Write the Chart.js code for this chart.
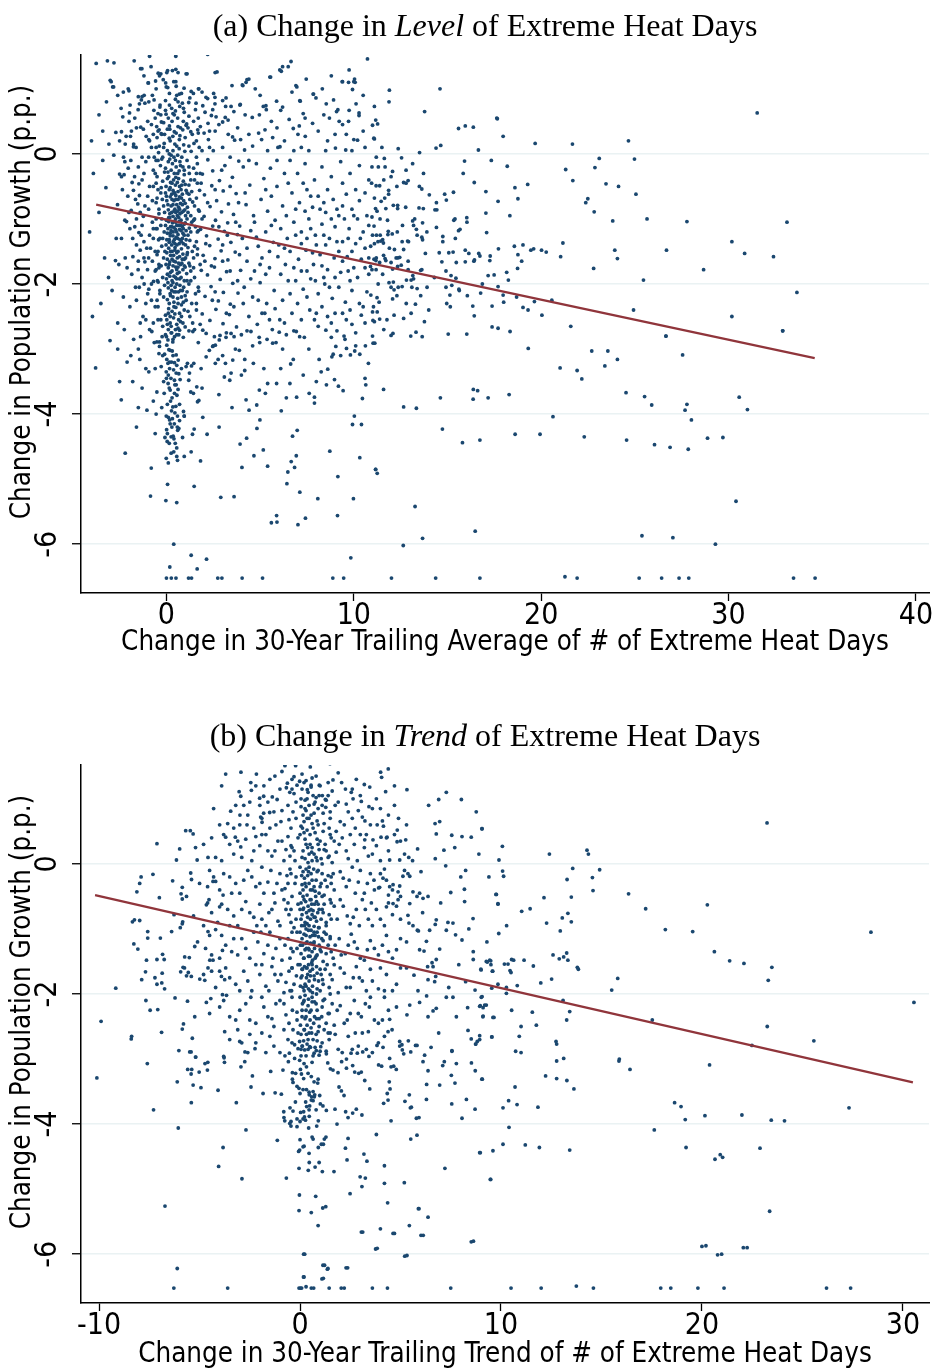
<!DOCTYPE html>
<html>
<head>
<meta charset="utf-8">
<script src="https://cdn.jsdelivr.net/npm/chart.js@4.4.1/dist/chart.umd.min.js"></script>
<style>
  body { margin: 0; background: #fff; }
  canvas { display: block; }
</style>
</head>
<body>
<canvas id="level-chart" width="933" height="710"></canvas>
<canvas id="trend-chart" width="933" height="658"></canvas>
<script>
// tick values
const levelXTicks = [0, 10, 20, 30, 40];
const trendXTicks = [-10, 0, 10, 20, 30];
const yTicks = [0, -2, -4, -6];

// fitted lines (end points)
const levelFit = [[-3.75, -0.78], [34.6, -3.14]];
const trendFit = [[-10.2, -0.48], [30.5, -3.36]];

// (a) change in 30-yr trailing average vs change in pop growth
const levelPoints = [
[-3.75,1.39],[-3.15,1.43],[-2.8,1.4],[-1.72,1.43],[-0.9,1.5],[0.5,1.5],[2.2,1.53],[-1.38,1.31],[-0.3,1.23],[0.06,1.28],[0.32,1.28],[0.62,1.25],[1.1,1.23],[2.6,1.25],[2.7,1.26],[6.65,1.42],[6.2,1.34],[6.05,1.29],[10.73,1.46],[9.75,1.29],[10.04,1.15],[9.72,1.1],[9.4,1.11],[11.9,0.98],[11.88,0.8],[14.6,1.0],[13.78,0.65],[17.63,0.55],[31.53,0.63],
[-3.0,1.13],[-2.87,1.03],[-2.04,1.0],[-1.5,0.88],[-1.34,0.83],[-0.96,1.09],[-0.58,1.12],[-0.17,1.14],[-0.01,1.03],[0.5,1.11],[0.69,0.92],[0.94,1.01],[1.32,0.96],[1.73,1.0],[2.2,0.85],[2.59,0.77],[3.16,0.73],[3.92,0.75],[4.3,1.14],[4.08,1.05],[4.74,1.0],[5.56,1.18],[6.13,1.27],[6.96,1.03],[7.46,1.15],[7.85,0.92],[8.32,1.0],[7.12,0.82],[5.31,0.74],[6.1,0.67],[8.92,0.83],[10.12,0.77],[10.28,0.63],[9.15,0.68],[10.0,1.11],
[-0.82,1.34],[-1.31,1.31],[-0.44,1.24],[-0.37,1.2],[0.02,1.25],[0.5,1.3],[1.05,1.23],[6.5,1.34],
[-2.95,1.11],[-2.82,1.03],[-2.0,0.97],[-0.98,1.09],[-0.55,1.0],[0.07,1.02],[0.16,0.93],[-0.04,1.09],[0.39,1.11],[0.52,1.04],[0.8,0.93],[1.71,1.0],[1.44,0.93],[2.11,0.87],[2.52,0.93],[2.59,0.87],[3.18,0.86],[4.05,1.06],[4.25,1.1],[4.4,1.15],[5.52,1.18],[6.91,1.05],[9.38,1.11],[10.07,1.1],[9.93,0.99],[7.83,0.92],[7.98,0.86],[8.53,0.77],[7.14,0.81],[5.88,0.81],[5.17,0.73],[5.33,0.68],[3.94,0.76],[3.45,0.73],[3.0,0.82],[-2.42,0.7],[-1.94,0.75],[-1.3,0.88],[-1.19,0.9],[-0.94,0.8],[-0.66,0.83],[-0.34,0.75],[0.16,0.75],[0.48,0.84],[0.62,0.8],[0.71,0.73],[1.19,0.79],[1.58,0.78],[1.94,0.74],[-1.15,0.78],[-1.44,0.77],[-1.51,0.68],[-2.33,0.57],[-1.97,0.63],[-1.69,0.55],
[-3.07,0.15],[-2.81,-0.02],[-2.7,0.33],[-2.4,0.34],[-2.15,0.27],[-1.92,0.27],[-1.87,0.35],[-1.76,0.11],[-1.62,0.1],[-1.37,0.41],[-1.23,0.38],[-1.08,0.27],[-0.94,0.22],[-0.8,0.1],[-0.55,0.1],[-0.52,0.42],[-0.39,0.37],[-0.28,0.31],[-0.27,0.49],[-0.02,0.61],[0.16,0.43],[0.34,0.27],[0.52,0.32],[0.69,0.22],[0.87,0.37],[1.08,0.46],[1.3,0.34],[1.47,0.16],[1.67,0.37],[1.81,0.42],[2.01,0.32],[2.24,0.22],[2.22,0.47],[2.4,0.59],[2.47,0.68],[2.65,0.57],[3.0,0.49],[3.14,0.56],[3.29,0.52],[3.53,0.26],[3.64,0.21],[3.96,0.22],[4.17,0.06],[4.92,0.32],[5.08,0.22],[5.26,0.37],[5.67,0.25],[5.95,0.1],[6.06,0.11],[6.55,0.53],[6.77,0.39],[7.02,0.3],[7.41,0.27],[9.02,0.09],[9.57,0.06],[10.0,0.22],[10.2,0.21],[10.6,0.1],[11.07,0.24],[11.17,0.52],[11.1,0.73],[10.28,0.59],[9.75,0.67],[9.08,0.65],[9.22,0.5],[9.72,0.5],[9.4,0.45],[7.8,0.47],[7.09,0.43],[4.96,0.6],[4.58,0.56],[2.06,0.64],[0.91,0.7],[0.48,0.66],[-0.05,0.67],[-0.67,0.67],
[-0.6,0.55],[-0.3,0.6],[0.1,0.55],[0.3,0.5],[0.6,0.55],[0.9,0.5],[1.2,0.58],[-0.8,0.45],[-0.45,0.35],[-0.1,0.3],[0.2,0.2],[0.45,0.15],[0.75,0.4],[1.0,0.25],[1.2,0.12],[-0.7,0.3],[-1.0,0.5],[-1.6,0.4],[-2.0,0.5],[-2.5,0.2],[0.05,0.05],[0.35,0.05],[0.6,-0.02],[-0.2,-0.05],[1.6,0.2],[1.9,0.05],[2.3,0.1],[2.6,0.35],[3.0,0.1],[3.3,0.3],[3.8,0.4],[4.4,0.3],[5.6,0.5],[6.3,0.2],[7.6,0.05],[8.1,0.35],[8.6,0.2],[8.7,0.55],[6.2,0.72],[3.6,0.65],[2.8,0.45],[1.45,0.5],
[-3.6,0.6],[-3.2,0.8],[-4.0,0.2],[-2.6,0.9],[-2.2,0.15],[-3.4,0.35],
[11.27,0.46],[11.0,0.44],[11.1,0.23],[12.37,0.08],[13.51,0.02],[14.39,0.09],[14.64,0.13],[15.59,0.39],[15.95,0.43],[16.38,0.41],[16.65,0.06],[17.66,0.54],[17.97,0.27],[19.68,0.16],[21.67,0.15],[24.66,0.2],
[11.63,-0.07],[12.55,-0.06],[13.14,-0.15],[10.97,-0.2],[11.31,-0.2],[11.67,-0.2],[11.99,-0.35],[12.07,-0.27],[12.79,-0.25],[13.72,-0.3],[15.84,-0.3],[17.34,-0.1],[18.19,-0.19],[15.91,-0.11],[21.31,-0.24],[22.87,-0.21],[23.1,-0.07],[24.98,-0.08],[21.69,-0.41],[23.46,-0.46],[24.13,-0.5],[25.06,-0.62],[16.43,-0.44],[18.6,-0.52],[18.76,-0.69],[19.28,-0.47],[10.95,-0.45],[11.19,-0.49],[11.38,-0.49],[11.86,-0.56],[11.86,-0.62],[12.66,-0.44],[12.79,-0.45],[12.9,-0.41],[13.5,-0.5],[13.63,-0.54],[14.03,-0.63],[14.85,-0.62],[15.32,-0.59],[14.94,-0.71],[17.05,-0.58],[17.7,-0.73],[18.33,-0.95],[22.38,-0.75],[22.49,-0.69],[22.83,-0.89],[23.82,-1.03],[25.65,-1.0],[27.78,-1.04],[33.12,-1.05],[30.18,-1.35],[30.86,-1.53],[32.4,-1.58],[28.67,-1.78],[26.69,-1.48],[25.46,-1.94],[33.65,-2.13],[23.93,-1.48],[24.07,-1.61],[22.8,-1.76],[21.04,-1.58],[21.16,-1.37],[24.93,-2.4],[30.18,-2.5],[32.89,-2.72],[26.66,-2.8],[21.58,-2.65],[20.57,-2.25],[20.04,-2.48],[19.64,-2.27],[19.3,-2.4],[19.03,-2.36],[18.34,-2.73],[17.7,-2.68],[17.38,-2.66],[18.0,-2.28],[17.97,-2.17],[18.69,-2.2],[16.43,-2.49],[16.35,-2.34],[16.03,-2.77],[15.04,-2.77],[13.77,-2.58],[13.29,-2.31],[13.57,-2.18],[13.06,-2.45],[12.66,-2.53],[12.09,-2.76],[11.99,-2.79],[13.04,-2.8],[13.32,-2.74],[13.65,-2.81],[11.77,-2.55],[11.38,-2.54],[12.15,-2.48],[11.1,-2.58],[11.02,-2.56],[11.0,-2.43],[11.25,-2.43],[11.24,-2.21],[10.91,-2.17],[11.35,-2.28],[12.07,-2.23],[12.3,-2.18],[12.15,-2.09],[11.99,-2.05],[11.88,-1.98],[12.11,-1.97],[12.37,-2.05],[12.58,-2.04],[13.1,-2.05],[13.38,-2.07],[13.91,-2.05],[14.92,-2.05],[15.23,-2.02],[15.45,-1.91],[15.63,-2.1],[16.06,-2.18],[15.13,-2.17],[14.96,-2.3],[15.15,-2.35],[16.77,-2.14],[16.86,-2.0],[17.17,-1.87],[17.49,-1.86],[17.7,-2.04],[18.16,-1.82],[18.25,-1.94],[18.74,-1.76],[18.76,-1.55],[18.96,-1.65],[18.57,-1.42],[19.03,-1.4],[19.45,-1.48],[19.6,-1.46],[20.02,-1.48],[20.27,-1.51],[17.72,-1.46],[17.28,-1.57],[17.26,-1.64],[16.67,-1.53],[16.73,-1.57],[16.44,-1.63],[16.41,-1.65],[16.14,-1.53],[15.95,-1.48],[15.95,-1.66],[15.47,-1.67],[15.3,-1.51],[15.07,-1.52],[14.7,-1.66],[14.92,-1.8],[15.19,-1.87],[14.56,-1.52],[13.82,-1.53],[13.63,-1.78],[13.57,-1.79],[12.9,-1.78],[13.15,-1.87],[13.06,-1.94],[13.19,-1.92],[12.81,-1.94],[12.53,-1.71],[12.35,-1.6],[12.45,-1.59],[12.66,-1.47],[12.92,-1.35],[12.58,-1.35],[12.87,-1.34],[12.17,-1.47],[11.82,-1.24],[12.05,-1.23],[11.54,-1.32],[11.58,-1.37],[11.44,-1.34],[11.29,-1.35],[11.1,-1.38],[11.21,-1.25],[11.41,-1.25],[11.59,-1.56],[11.71,-1.64],[11.08,-1.62],[11.18,-1.64],[11.38,-1.67],[11.67,-1.61],[10.89,-1.73],[10.97,-1.78],[11.19,-1.78],[11.54,-1.85],[11.99,-1.67],[12.07,-1.77],[12.26,-1.6],[12.34,-1.73],
[13.25,-1.0],[13.34,-1.16],[13.38,-1.25],[13.63,-1.28],[13.67,-1.32],[13.14,-1.03],[13.19,-1.1],[14.41,-0.75],[14.43,-0.86],[14.33,-0.86],[15.4,-1.0],[15.34,-1.02],[16.03,-0.98],[16.04,-1.05],[15.59,-1.18],[15.67,-1.16],[15.42,-1.3],[14.75,-1.27],[14.75,-1.35],[14.41,-1.13],[13.67,-1.06],[13.48,-0.83],[13.71,-0.84],[12.77,-0.82],[12.34,-0.79],[12.34,-0.84],[12.11,-0.79],[11.8,-1.02],[11.71,-0.84],[11.46,-0.73],[11.65,-0.68],[11.16,-0.84],[11.24,-0.88],[10.97,-0.97],[11.08,-1.11],[11.84,-1.19],[12.32,-1.2],[17.09,-1.21],[17.05,-0.91],[17.38,-2.34],[15.61,-2.08],
[-3.23,-0.52],[-2.61,-0.78],[-2.68,-1.3],[-2.22,-1.02],[-2.72,-1.64],[-2.54,-1.7],[-3.09,-1.9],[-2.13,-1.04],[-2.4,-0.35],[-2.29,-0.05],[-2.22,-0.12],[-2.04,-0.22],[-2.5,-0.31],[-2.26,-0.32],[-1.83,-0.44],[-1.76,-0.56],[-1.47,-0.46],[-1.44,-0.64],[-2.06,-0.65],[-1.88,-0.87],[-1.53,-0.77],[-1.23,-0.96],[-1.69,-1.12],[-1.47,-1.21],[-1.79,-1.58],[-1.51,-1.78],[-1.4,-1.48],[-1.15,-1.66],[-1.01,-1.78],[-1.19,-2.0],[-0.94,-2.08],[-0.69,-1.96],[-0.55,-1.78],[-0.44,-1.97],
[1.65,-0.15],[1.92,-0.31],[2.21,-0.09],[2.47,-0.26],[2.83,-0.41],[3.12,-0.18],[3.52,-0.36],[3.86,-0.11],[1.77,-0.56],[2.03,-0.63],[2.42,-0.49],[2.68,-0.72],[3.03,-0.57],[3.31,-0.77],[3.72,-0.61],[1.71,-0.86],[2.01,-0.96],[2.33,-0.81],[2.62,-1.02],[2.94,-0.89],[3.27,-1.06],[3.58,-0.93],[3.91,-1.11],[1.82,-1.16],[2.14,-1.26],[2.47,-1.11],[2.76,-1.31],[3.09,-1.19],[3.44,-1.36],[3.79,-1.24],[1.66,-1.46],[1.96,-1.56],[2.31,-1.41],[2.59,-1.61],[2.92,-1.49],[3.28,-1.63],[3.67,-1.51],[1.86,-1.79],[2.19,-1.86],[2.56,-1.74],[2.87,-1.93],[3.21,-1.81],[3.54,-1.99],[3.96,-1.79],[1.72,-2.11],[2.06,-2.19],[2.38,-2.04],[2.77,-2.26],[3.04,-2.13],[3.41,-2.31],[3.82,-2.14],[1.91,-2.46],[2.32,-2.56],[2.64,-2.39],[3.02,-2.61],[3.36,-2.47],[3.74,-2.66],[2.12,-2.76],[2.86,-2.79],[3.61,-2.81],
[4.1,-0.2],[4.45,-0.48],[4.8,-0.15],[5.2,-0.38],[5.55,-0.22],[5.9,-0.5],[6.3,-0.3],[4.25,-0.78],[4.65,-0.95],[5.05,-0.7],[5.4,-0.88],[5.8,-1.02],[6.2,-0.8],[4.05,-1.3],[4.5,-1.18],[4.9,-1.42],[5.3,-1.2],[5.7,-1.36],[6.1,-1.15],[6.45,-1.3],[4.3,-1.65],[4.7,-1.8],[5.1,-1.6],[5.5,-1.75],[5.95,-1.58],[6.35,-1.7],[4.15,-2.05],[4.6,-2.2],[5.0,-1.98],[5.35,-2.3],[5.75,-2.1],[6.2,-2.25],[4.4,-2.5],[4.85,-2.62],[5.25,-2.45],[5.65,-2.7],[6.05,-2.55],[6.4,-2.78],[4.95,-2.82],[5.85,-2.9],
[6.6,-0.1],[7.0,-0.3],[7.4,-0.15],[7.9,-0.4],[8.3,-0.2],[8.8,-0.35],[9.3,-0.12],[9.8,-0.3],[10.3,-0.18],[10.8,-0.4],[11.2,-0.05],[6.7,-0.6],[7.1,-0.75],[7.5,-0.55],[7.8,-0.82],[8.1,-0.65],[8.5,-0.9],[8.9,-0.7],[9.2,-0.95],[9.6,-0.62],[9.9,-0.85],[10.3,-0.72],[10.7,-0.95],[11.1,-0.68],[6.8,-1.05],[7.2,-1.2],[7.6,-1.0],[7.95,-1.25],[8.3,-1.08],[8.7,-1.3],[9.0,-1.12],[9.4,-1.35],[9.75,-1.15],[10.1,-1.38],[10.5,-1.2],[10.9,-1.42],[6.6,-1.5],[7.05,-1.62],[7.45,-1.48],[7.85,-1.7],[8.2,-1.55],[8.6,-1.78],[8.95,-1.6],[9.3,-1.82],[9.65,-1.58],[10.0,-1.75],[10.4,-1.62],[10.8,-1.85],[11.2,-1.6],[6.9,-1.95],[7.3,-2.08],[7.7,-1.92],[8.1,-2.15],[8.45,-2.0],[8.85,-2.22],[9.2,-2.05],[9.55,-2.28],[9.9,-2.1],[10.3,-2.3],[10.7,-2.12],[11.05,-2.35],[6.7,-2.45],[7.2,-2.55],[7.65,-2.4],[8.1,-2.65],[8.6,-2.5],[9.1,-2.72],[9.6,-2.55],[10.1,-2.75],[10.6,-2.6],[11.0,-2.8],[8.0,-1.4],[8.8,-1.0],[9.5,-1.0],[8.4,-1.9],[9.8,-1.95],[7.5,-1.3],[10.2,-1.0],
[-0.25,-0.08],[0.1,-0.12],[0.4,-0.05],[0.75,-0.18],[1.1,-0.1],[1.45,-0.22],[0.25,-0.25],[0.6,-0.3],[-0.1,-0.28],[0.95,-0.32],
[-0.2,-0.42],[0.05,-0.38],[0.3,-0.45],[0.5,-0.36],[0.7,-0.5],[0.9,-0.42],[1.2,-0.48],[1.5,-0.4],[0.15,-0.55],[0.4,-0.6],[0.62,-0.58],[0.85,-0.62],[-0.05,-0.6],[1.05,-0.56],
[-0.22,-0.7],[0.02,-0.72],[0.2,-0.66],[0.35,-0.78],[0.5,-0.7],[0.65,-0.82],[0.8,-0.68],[1.0,-0.76],[1.25,-0.7],[1.5,-0.8],[0.1,-0.86],[0.28,-0.9],[0.45,-0.85],[0.72,-0.92],[0.9,-0.88],[1.15,-0.9],[-0.1,-0.9],[0.58,-0.95],
[-0.25,-1.0],[0.0,-1.02],[0.18,-0.98],[0.32,-1.06],[0.48,-1.0],[0.62,-1.1],[0.78,-1.02],[0.95,-1.08],[1.1,-1.0],[1.35,-1.05],[1.55,-1.12],[0.08,-1.15],[0.25,-1.18],[0.4,-1.13],[0.55,-1.2],[0.7,-1.16],[0.88,-1.22],[1.05,-1.18],[-0.12,-1.2],
[-0.2,-1.3],[0.02,-1.32],[0.2,-1.26],[0.36,-1.35],[0.52,-1.28],[0.68,-1.38],[0.85,-1.3],[1.02,-1.4],[1.25,-1.33],[1.5,-1.42],[0.12,-1.45],[0.3,-1.5],[0.46,-1.44],[0.62,-1.5],[0.8,-1.46],[1.12,-1.52],[-0.08,-1.5],
[-0.15,-1.6],[0.05,-1.62],[0.22,-1.56],[0.4,-1.65],[0.58,-1.6],[0.75,-1.7],[0.95,-1.62],[1.2,-1.68],[1.45,-1.6],[0.1,-1.75],[0.3,-1.8],[0.5,-1.74],[0.68,-1.82],[0.88,-1.78],[1.08,-1.84],
[-0.2,-1.9],[0.0,-1.92],[0.18,-1.88],[0.35,-1.98],[0.55,-1.92],[0.72,-2.02],[0.95,-1.95],[1.2,-2.0],[1.5,-1.9],[0.1,-2.06],[0.28,-2.1],[0.46,-2.05],[0.64,-2.12],[0.85,-2.1],
[-0.15,-2.2],[0.05,-2.24],[0.22,-2.18],[0.4,-2.28],[0.6,-2.22],[0.8,-2.32],[1.05,-2.25],[1.35,-2.3],[0.12,-2.38],[0.3,-2.42],[0.5,-2.36],[0.7,-2.45],[0.95,-2.4],[-0.05,-2.48],[1.25,-2.5],
[0.02,-2.55],[0.2,-2.6],[0.38,-2.52],[0.55,-2.62],[0.75,-2.58],[1.0,-2.66],[1.4,-2.6],[0.1,-2.7],[0.28,-2.75],[0.48,-2.7],[0.66,-2.78],[0.9,-2.82],[-0.2,-2.65],
[-0.35,0.72],[-0.05,0.82],[0.28,0.7],[0.55,0.9],[0.85,0.78],[1.25,0.86],[-0.15,0.48],[0.18,0.38],[0.42,0.6],[0.72,0.28],[1.05,0.44],[1.38,0.3],
[-0.38,0.12],[-0.12,0.16],[0.15,0.24],[0.42,0.34],[0.68,0.08],[0.92,0.14],[1.32,0.04],[0.25,-0.02],[0.55,0.12],[0.82,-0.05],
[-0.32,-0.18],[-0.05,-0.22],[0.18,-0.08],[0.32,-0.15],[0.52,-0.2],[0.68,-0.26],[0.88,-0.2],[1.22,-0.3],[0.42,-0.3],[0.12,-0.35],
[-0.28,-0.52],[-0.02,-0.5],[0.22,-0.44],[0.35,-0.56],[0.48,-0.48],[0.58,-0.44],[0.78,-0.55],[1.0,-0.47],[1.35,-0.58],[0.28,-0.62],[0.5,-0.64],[0.7,-0.66],
[-0.15,-0.8],[0.08,-0.78],[0.25,-0.8],[0.4,-0.72],[0.55,-0.78],[0.62,-0.7],[0.75,-0.76],[0.92,-0.72],[1.12,-0.82],[1.4,-0.74],[0.18,-0.92],[0.35,-0.96],[0.5,-0.9],[0.66,-0.98],[0.82,-0.9],[1.02,-0.95],
[-0.3,-1.1],[-0.05,-1.1],[0.12,-1.04],[0.28,-1.12],[0.42,-1.04],[0.55,-1.1],[0.68,-1.04],[0.85,-1.12],[1.0,-1.06],[1.22,-1.14],[1.45,-1.02],[0.2,-1.22],[0.35,-1.26],[0.48,-1.16],[0.62,-1.24],[0.78,-1.18],[0.95,-1.25],
[-0.25,-1.42],[-0.02,-1.4],[0.15,-1.36],[0.28,-1.4],[0.42,-1.32],[0.56,-1.4],[0.72,-1.32],[0.9,-1.38],[1.15,-1.44],[1.38,-1.5],[0.22,-1.5],[0.38,-1.56],[0.55,-1.52],[0.7,-1.58],[0.88,-1.54],[1.02,-1.6],
[-0.28,-1.72],[-0.02,-1.7],[0.18,-1.66],[0.35,-1.72],[0.48,-1.66],[0.62,-1.74],[0.82,-1.68],[1.0,-1.74],[1.3,-1.8],[0.22,-1.82],[0.4,-1.88],[0.58,-1.84],[0.78,-1.9],[1.1,-1.95],
[-0.1,-2.02],[0.08,-1.98],[0.25,-2.02],[0.4,-2.12],[0.55,-2.0],[0.8,-2.2],[1.1,-2.12],[0.15,-2.3],[0.35,-2.2],[0.62,-2.3],[0.9,-2.28],[0.2,-2.5],[0.45,-2.46],[0.8,-2.5],[0.05,-2.62],[0.62,-2.68],[0.35,-2.85],
[-0.45,0.62],[1.55,0.68],[-0.5,0.25],[1.7,0.32],[0.05,0.38],[0.62,0.42],[1.15,0.4],[-0.25,0.3],[0.35,0.62],[0.95,0.64],
[-0.55,-0.1],[1.6,-0.05],[-0.42,0.02],[1.75,0.1],[0.15,0.0],[0.48,-0.1],[0.98,0.04],[1.2,-0.2],[-0.15,0.1],[0.72,-0.12],
[-0.5,-0.35],[1.65,-0.45],[-0.45,-0.55],[1.8,-0.3],[0.08,-0.28],[0.38,-0.4],[0.65,-0.38],[0.95,-0.25],[1.3,-0.4],[0.2,-0.52],[0.82,-0.48],[1.1,-0.6],
[-0.55,-0.75],[1.6,-0.68],[-0.4,-0.92],[1.75,-0.88],[0.0,-0.65],[0.3,-0.7],[0.45,-0.6],[0.7,-0.85],[0.85,-0.78],[1.2,-0.62],[1.3,-0.95],[0.12,-0.98],[0.4,-0.88],[0.6,-0.88],[0.98,-0.86],[1.5,-1.0],
[-0.55,-1.15],[1.7,-1.18],[-0.42,-1.32],[1.6,-1.35],[0.05,-1.22],[0.22,-1.12],[0.36,-1.2],[0.5,-1.05],[0.6,-1.3],[0.75,-1.1],[0.9,-1.15],[1.15,-1.25],[1.3,-1.2],[0.15,-1.32],[0.45,-1.38],[0.8,-1.35],[1.05,-1.32],
[-0.5,-1.55],[1.65,-1.55],[-0.4,-1.75],[1.8,-1.7],[0.02,-1.52],[0.3,-1.62],[0.45,-1.48],[0.65,-1.68],[0.85,-1.62],[1.1,-1.55],[1.25,-1.72],[0.15,-1.7],[0.55,-1.78],[0.95,-1.72],[1.45,-1.75],
[-0.48,-1.95],[1.7,-2.05],[-0.35,-2.15],[1.55,-2.15],[0.05,-1.85],[0.3,-1.95],[0.48,-1.9],[0.7,-1.92],[0.92,-2.05],[1.3,-1.95],[0.2,-2.15],[0.5,-2.12],[0.75,-2.1],[1.0,-2.18],
[-0.45,-2.35],[1.6,-2.4],[-0.3,-2.55],[1.5,-2.7],[0.1,-2.45],[0.4,-2.35],[0.65,-2.55],[0.88,-2.6],[1.15,-2.42],[0.25,-2.65],[0.55,-2.78],[1.2,-2.72],
[-0.9,0.2],[-1.3,-0.05],[-0.6,-0.3],[-1.7,-0.35],[-1.0,-0.65],[-0.5,-0.68],[-1.4,-0.9],[-0.75,-1.05],[-1.8,-1.3],[-1.2,-1.35],[-0.7,-1.3],[-0.45,-1.5],[-1.5,-1.65],[-0.95,-1.6],[-0.6,-1.8],[-1.65,-2.05],[-1.0,-2.15],[-0.5,-2.25],[-1.25,-2.5],[-0.7,-2.6],
[-2.3,0.95],[-1.2,1.2],[-0.75,0.9],[-1.75,0.15],[-0.95,-0.05],[-2.35,-0.55],[-1.2,-0.3],[-0.7,-0.5],[-2.0,-0.9],[-1.6,-1.0],[-0.95,-0.85],[-0.7,-1.15],[-2.4,-1.3],[-1.35,-1.25],[-0.85,-1.45],[-2.1,-1.75],[-1.2,-1.6],[-0.75,-1.65],[-1.95,-2.35],[-1.45,-2.05],[-0.8,-2.25],[-2.25,-2.7],[-1.1,-2.55],[-0.65,-2.9],[-1.9,-3.1],[-1.1,-3.3],[-0.6,-3.3],[-2.5,-3.5],[-1.5,-3.9],[-0.55,-4.0],
[1.7,0.55],[2.5,0.05],[3.4,-0.05],[4.6,0.12],[5.4,0.05],[6.8,0.05],[7.3,0.62],[8.4,0.6],[9.6,0.3],[10.5,0.35],
[1.85,-0.45],[2.6,-0.55],[3.4,-0.5],[4.2,-0.6],[5.6,-0.65],[6.5,-0.45],[7.3,-0.45],[8.6,-0.55],[9.4,-0.45],[10.6,-0.6],
[1.9,-1.0],[2.8,-1.12],[3.7,-1.05],[4.7,-1.05],[5.6,-1.1],[6.4,-0.95],[7.4,-0.88],[8.2,-0.85],[9.1,-0.85],[10.0,-0.95],[10.8,-1.1],
[2.1,-1.38],[3.0,-1.4],[3.9,-1.55],[4.8,-1.28],[5.5,-1.5],[6.3,-1.45],[7.2,-1.38],[7.8,-1.52],[8.5,-1.4],[9.2,-1.5],[9.9,-1.5],[10.6,-1.45],[11.0,-1.25],
[2.4,-1.72],[3.4,-1.8],[4.5,-1.92],[5.3,-1.85],[6.1,-1.85],[6.8,-1.75],[7.5,-1.8],[8.3,-1.72],[9.0,-1.9],[9.7,-1.8],[10.6,-1.75],
[2.6,-2.12],[3.6,-2.35],[4.9,-2.25],[5.8,-2.38],[6.6,-2.15],[7.5,-2.2],[8.3,-2.35],[9.0,-2.45],[9.8,-2.4],[10.4,-2.48],
[1.8,-2.62],[3.2,-2.75],[4.3,-2.72],[5.5,-2.55],[6.8,-2.72],[7.9,-2.55],[8.8,-2.82],[9.9,-2.62],
[1.9,0.95],[3.5,1.05],[5.0,0.9],[6.7,0.95],[8.8,1.2],[2.3,0.35],[4.2,0.6],[5.9,0.4],[7.4,0.55],[9.0,0.3],[10.5,0.9],[11.5,0.1],
[1.6,-0.3],[2.95,-0.25],[4.4,-0.1],[5.9,-0.1],[7.2,0.1],[8.5,0.05],[9.9,0.05],[11.6,-0.4],[12.3,-0.5],
[2.2,-0.75],[3.85,-0.75],[5.3,-0.55],[6.9,-0.85],[7.7,-0.65],[8.4,-0.75],[9.4,-0.8],[10.1,-0.55],[11.4,-1.0],[12.6,-1.1],[13.9,-1.2],
[1.65,-1.2],[3.25,-1.25],[4.3,-1.45],[6.0,-1.4],[6.9,-1.25],[7.7,-1.15],[8.4,-1.25],[9.1,-1.35],[9.7,-1.3],[10.35,-1.3],[10.8,-1.6],[11.9,-1.45],[12.9,-1.65],[14.3,-1.9],
[2.05,-1.65],[3.0,-1.65],[3.8,-1.95],[5.0,-1.7],[6.5,-1.95],[7.2,-1.8],[7.95,-1.95],[8.7,-2.05],[9.4,-1.65],[10.2,-1.9],[11.3,-2.0],[12.8,-2.3],[14.0,-2.4],
[1.6,-2.3],[2.45,-2.25],[3.2,-2.45],[4.1,-2.3],[5.1,-2.45],[6.3,-2.6],[7.0,-2.3],[8.0,-2.45],[8.8,-2.6],[9.4,-2.45],[10.5,-2.35],[11.6,-2.7],
[1.7,-2.9],[2.5,-2.95],[4.6,-2.95],[6.2,-3.0],[7.6,-3.0],[9.3,-3.1],[3.0,-3.1],[4.0,-3.4],[5.2,-3.3],[6.1,-3.3],[7.3,-3.4],[8.0,-3.5],[1.9,-3.6],[2.8,-3.7],[3.5,-3.9],[6.4,-3.75],
[-1.9,-0.1],[-1.5,-0.2],[-1.1,-0.12],[-0.7,-0.25],[-0.45,-0.1],[-1.3,-0.4],[-0.9,-0.5],[-0.55,-0.45],[-1.65,-0.7],[-1.15,-0.8],[-0.75,-0.72],[-0.4,-0.85],[-1.95,-1.15],[-1.3,-1.1],[-0.9,-1.25],[-0.5,-1.15],[-1.6,-1.4],[-1.05,-1.45],[-0.6,-1.5],[-0.35,-1.3],[-1.85,-1.85],[-1.3,-1.9],[-0.8,-2.0],[-0.4,-1.7],[-1.6,-2.25],[-1.1,-2.3],[-0.6,-2.35],[-0.35,-2.1],[-1.4,-2.6],[-0.9,-2.7],[-0.45,-2.55],[-1.75,-2.85],[-0.65,-0.05],[-0.3,-0.6],[-0.55,-1.0],
[-4.1,-1.2],[-3.6,-0.9],[-3.3,-1.6],[-2.9,-2.1],[-3.95,-2.5],[-3.5,-2.3],[-2.6,-2.6],[-2.3,-2.2],[-2.2,-1.6],[-3.9,-0.3],[-3.4,-0.1],[-2.1,-3.2],[-1.8,-3.5],[-1.5,-3.0],[-2.6,-3.0],[-1.3,-3.6],[-0.7,-3.8],[-1.6,-4.2],[-2.2,-4.6],[-0.6,-4.3],
[-3.01,-2.87],[-1.38,-2.81],[-1.42,-3.16],[-3.78,-3.29],[-2.41,-3.78],[-0.94,-3.35],[-1.04,-3.94],[-0.51,-3.66],[-0.12,-3.68],[-0.37,-2.89],[-0.4,-3.07],[-0.28,-3.27],[-0.1,-3.08],[0.0,-2.81],[0.02,-2.94],[0.16,-3.2],[0.08,-3.22],
[-0.05,-2.78],[0.08,-2.86],[0.25,-2.75],[0.34,-2.89],[0.43,-2.81],[0.13,-3.01],[0.31,-3.03],[0.52,-3.09],[0.02,-3.16],[0.27,-3.2],[0.43,-3.21],[0.63,-3.17],[0.17,-3.3],[0.38,-3.32],[0.52,-3.37],[-0.01,-3.35],[0.24,-3.45],[0.43,-3.48],[0.09,-3.53],[0.52,-3.55],[0.2,-3.63],[0.43,-3.68],[0.56,-3.71],[0.22,-3.8],[0.34,-3.89],[0.27,-3.95],[0.45,-3.98],[0.59,-4.03],[0.17,-4.09],[0.29,-4.2],[0.91,-3.96],[0.95,-4.03],[0.7,-3.85],[0.66,-3.38],[0.73,-3.47],[1.05,-3.27],[1.12,-3.22],[1.23,-3.37],[1.34,-3.26],[1.46,-3.22],[1.19,-3.48],[1.3,-3.66],[1.44,-3.68],[1.62,-3.58],[1.66,-3.81],[1.73,-3.79],[1.85,-3.3],[2.12,-3.12],[2.29,-3.02],[2.47,-2.96],[2.61,-2.94],[2.82,-2.86],[2.61,-3.22],[2.76,-3.16],[3.15,-3.22],[3.09,-3.43],[3.38,-3.48],[3.45,-3.37],[3.54,-3.17],[3.68,-3.0],[3.89,-3.02],[4.18,-3.16],[4.18,-3.33],[4.25,-3.78],[4.41,-3.94],[4.64,-3.22],[4.82,-3.86],[4.96,-3.63],[4.98,-2.9],[5.28,-3.68],[5.4,-3.53],[5.67,-2.91],[5.88,-3.53],[6.13,-3.95],[6.59,-3.53],[6.63,-3.23],[6.77,-3.16],[6.95,-3.74],[7.11,-2.81],[7.36,-2.82],[7.62,-3.68],[7.9,-3.74],[7.9,-3.83],[8.15,-3.16],[8.26,-3.35],[8.61,-3.31],[8.54,-3.55],[8.83,-3.12],[8.9,-3.08],[8.97,-3.47],[9.04,-2.96],[9.18,-3.57],[9.43,-3.64],[9.61,-2.99],[9.82,-3.09],[10.1,-2.95],[10.32,-3.08],[10.46,-3.76],[10.6,-3.45],[10.64,-3.55],[10.78,-3.22],[11.03,-2.91],[11.12,-2.91],[0.7,-2.71],[1.41,-2.73],[1.94,-2.71],[2.56,-2.81],[3.18,-2.82],[3.45,-2.76],[4.0,-2.78],[4.51,-2.73],[5.37,-2.85],[6.02,-2.74],[6.93,-2.73],[8.51,-2.71],[9.48,-2.8],[9.53,-2.85],[10.05,-3.03],[10.62,-2.95],[-0.23,-2.81],[-0.37,-2.96],[-0.51,-2.89],[-0.78,-2.73],
[-0.2,-3.1],[0.1,-3.4],[0.35,-3.1],[0.55,-3.25],[0.15,-3.6],[0.45,-3.55],[0.05,-3.85],[0.5,-3.88],[0.1,-4.05],[0.42,-4.15],[0.7,-4.1],[0.25,-4.35],[0.55,-4.65],[0.3,-3.75],[0.62,-3.62],[0.0,-3.45],[0.8,-3.3],[0.2,-3.02],[-0.15,-3.5],[-0.25,-3.9],
[-0.81,-4.83],[-0.85,-5.26],[-0.03,-5.33],[0.55,-5.36],[0.06,-5.08],[1.48,-5.11],[2.9,-5.28],[3.61,-5.27],[5.6,-5.67],[5.88,-5.56],[5.9,-5.66],[7.02,-5.7],[7.42,-5.6],[7.12,-5.2],[8.08,-5.3],[9.13,-5.56],[9.98,-5.3],[9.15,-4.96],[10.32,-4.67],[11.17,-4.85],[6.43,-5.07],[6.48,-4.89],[6.84,-4.82],[6.66,-4.73],[6.93,-4.64],[8.72,-4.57],[5.4,-4.8],[5.17,-4.55],[4.67,-4.64],[4.03,-4.82],[3.93,-4.46],[4.28,-4.37],[4.83,-4.22],[4.99,-4.09],[6.73,-4.34],[6.98,-4.25],[9.93,-4.16],[10.03,-4.03],[10.41,-4.16],
[-0.01,-4.03],[0.01,-4.24],[-0.08,-4.36],[0.36,-4.34],[0.47,-4.45],[0.86,-4.36],[1.32,-4.58],[1.39,-4.31],[1.48,-4.23],[2.17,-4.31],[2.81,-4.2],[0.95,-4.65],[0.59,-4.71],[0.39,-4.58],[-0.01,-4.68],[1.82,-4.72],[0.04,-4.42],[0.58,-4.2],[0.66,-4.22],[0.32,-4.07],[0.95,-4.03],[1.94,-4.05],
[0.05,-4.3],[0.15,-4.45],[0.25,-4.6],[0.1,-4.75],[0.4,-4.38],[0.55,-4.52],[0.2,-4.15],[0.6,-4.25],
[0.39,-6.0],[1.32,-6.17],[2.14,-6.23],[0.18,-6.35],[1.64,-6.38],[9.84,-6.21],
[11.59,-3.62],[12.66,-3.89],[13.34,-3.91],[14.62,-3.75],[16.37,-3.77],[16.38,-3.62],[16.61,-3.64],[17.17,-3.75],[18.29,-3.7],[19.31,-2.99],[21.01,-3.29],[21.92,-3.33],[22.17,-3.46],[22.7,-3.03],[23.56,-3.03],[23.4,-3.26],[24.07,-3.16],[24.53,-3.67],[25.52,-3.73],[25.9,-3.86],[26.66,-2.8],[27.55,-3.09],[27.78,-3.85],[27.68,-3.94],[28.02,-4.09],[30.57,-3.74],[31.01,-3.93],[32.89,-2.72],[20.63,-4.04],[14.73,-4.23],[15.8,-4.44],[16.73,-4.4],[18.61,-4.31],[19.94,-4.31],[22.3,-4.35],[24.56,-4.4],[26.05,-4.47],[26.88,-4.51],[27.85,-4.54],[28.88,-4.37],[29.7,-4.36],[11.16,-4.85],[11.25,-4.91],[13.27,-5.42],[13.67,-5.91],[12.64,-6.02],[16.48,-5.8],[25.38,-5.87],[27.03,-5.9],[29.3,-6.0],[30.4,-5.34],
[0.0,-6.52],[0.26,-6.52],[0.51,-6.52],[1.18,-6.52],[1.34,-6.52],[2.74,-6.52],[2.96,-6.52],[4.04,-6.52],[5.13,-6.52],[8.88,-6.52],[9.46,-6.52],[12.01,-6.52],[14.37,-6.52],[16.73,-6.52],[21.27,-6.5],[21.92,-6.52],[25.23,-6.52],[26.43,-6.52],[27.36,-6.52],[27.88,-6.52],[33.47,-6.52],[34.62,-6.52]
];

// (b) change in 30-yr trailing trend vs change in pop growth
const trendPoints = [
[-7.1,1.56],[-7.12,0.31],[-5.46,0.51],[-5.99,0.23],[-6.15,0.06],[-5.44,-0.14],[-5.4,-0.24],[-7.32,-0.16],[-7.91,-0.2],[-7.98,-0.3],[-8.12,-0.43],[-6.34,-0.26],[-7.0,-0.52],[-5.86,-0.36],[-5.92,-0.46],[-5.86,-0.54],[-5.65,-0.5],[-6.27,-0.78],[-5.84,-0.89],[-5.86,-0.92],[-5.96,-0.98],[-6.39,-1.04],[-8.34,-0.89],[-8.24,-0.86],[-7.98,-0.87],[-7.58,-1.04],[-7.58,-1.14],[-6.95,-1.14],[-8.27,-1.23],[-8.07,-1.31],[-7.64,-1.48],[-7.12,-1.47],[-6.76,-1.47],[-6.84,-1.39],[-5.51,-1.44],[-5.75,-1.6],[-5.94,-1.66],[-5.65,-1.72],[-5.56,-1.67],[-7.69,-1.66],[-7.88,-1.78],[-7.22,-1.75],[-7.12,-1.85],[-6.86,-1.68],[-6.88,-1.83],[-6.74,-1.92],[-9.17,-1.91],[-7.67,-2.1],[-7.46,-2.25],[-7.08,-2.24],[-6.22,-2.06],[-5.6,-2.11],[-9.9,-2.42],[-6.89,-2.59],[-5.8,-2.46],[-5.86,-2.54],[-8.38,-2.65],[-8.4,-2.69],[-6.03,-2.87],[-7.6,-3.07],[-5.39,-3.16],[-10.11,-3.29],[-6.11,-3.35],[-7.29,-3.78],[-6.06,-4.06],[-6.72,-5.26],[-6.11,-6.22],
[-3.7,1.38],[-2.94,1.41],[-2.17,1.38],[-0.75,1.51],[-0.22,1.51],[0.51,1.49],[1.49,1.54],[4.01,1.41],[4.39,1.46],[4.06,1.33],[4.26,1.11],[5.32,1.14],[6.9,0.99],[7.28,1.1],[8.03,0.99],[8.77,0.8],[9.05,0.54],[-0.3,1.34],[-0.63,1.24],[-2.45,1.25],[-2.42,1.13],[-3.03,1.11],[-2.95,1.04],[-3.45,0.81],[-2.99,0.75],[-5.69,0.51],[-5.32,0.46],[-3.7,0.41],[-3.22,0.41],[-2.95,0.26],[-2.64,0.6],[-1.96,0.72],[-1.81,0.78],[-1.89,0.64],[-2.01,1.01],[-1.81,1.04],[-1.38,1.03],[-1.51,0.79],[-1.14,0.99],[-0.68,1.17],[-0.51,1.1],[-0.15,1.21],[-0.02,1.27],[0.3,1.28],[0.36,1.14],[0.55,1.21],[0.96,1.21],[1.11,1.05],[1.26,0.99],[1.28,0.87],[1.64,1.29],[2.07,1.25],[2.26,1.15],[2.55,1.1],[2.64,1.0],[3.05,0.96],[3.47,1.18],[3.43,0.88],[3.23,0.66],[3.84,0.6],[4.15,0.58],[3.22,0.37],[3.63,0.37],[4.03,0.41],[4.33,0.41],[4.84,0.52],[5.26,0.37],[5.85,0.23],[4.83,0.34],[6.72,0.62],[6.95,0.65],[7.16,0.21],[6.78,0.46],[7.55,0.44],[8.06,0.42],[8.52,0.41],[6.73,0.08],[7.25,-0.03],[8.24,-0.1],[8.61,-0.84],[8.19,-0.58],[7.5,-0.44],[8.18,-0.39],[9.77,-0.47],[9.85,-0.61],[7.61,-0.91],[7.36,-0.9],[7.28,-1.02],[7.74,-1.09],[8.06,-1.17],[8.62,-1.35],[8.62,-1.47],[9.0,-1.62],[9.27,-1.5],[9.49,-1.49],[9.57,-1.65],[8.24,-1.81],[8.71,-1.94],[9.02,-2.05],[9.19,-2.17],[8.94,-2.19],[9.6,-2.36],[9.1,-2.35],[8.34,-2.21],[7.78,-2.35],[7.28,-2.05],[7.61,-2.05],[8.36,-2.56],[8.52,-2.69],[8.74,-2.77],[8.82,-2.73],[8.94,-2.64],[9.54,-2.66],[7.56,-2.87],[6.2,-2.94],[5.09,-2.86],[5.75,-2.79],[4.96,-2.8],[5.39,-2.72],[4.38,-2.58],[4.58,-2.55],[4.46,-2.39],[5.32,-2.32],[5.46,-2.17],[5.95,-2.13],[6.37,-2.35],[6.62,-2.26],[6.78,-2.22],[6.3,-2.03],[5.87,-1.95],[5.67,-1.71],[6.37,-1.78],[6.7,-1.81],[6.75,-1.73],[6.62,-1.58],[6.78,-1.47],[6.95,-1.31],[6.57,-1.52],[6.35,-1.58],[6.17,-1.34],[5.95,-1.32],[6.29,-1.19],[5.84,-1.02],[5.89,-1.03],[6.45,-1.02],[6.73,-0.93],[6.78,-0.86],[6.37,-0.5],[6.12,-0.53],[5.82,-0.5],[5.62,-0.43],[5.46,-0.61],[5.37,-0.79],[5.42,-0.91],[5.62,-0.95],[5.95,-0.45],[6.02,-0.12],[5.46,-0.19],[5.37,-0.15],[5.12,-0.19],[4.96,0.06],[5.41,0.1],[4.46,0.06],[4.2,-0.08],[4.13,-0.22],[3.68,-0.25],[3.96,-0.36],[3.91,-0.37],[4.46,-0.35],[4.63,-0.32],[4.96,-0.34],[4.88,-0.43],[4.88,-0.55],[4.63,-0.61],[4.3,-0.66],
[-5.74,-1.43],[-5.24,-1.27],[-4.58,0.1],[-5.12,0.06],[-4.33,-0.27],[-4.2,-0.27],[-4.53,-0.55],[-4.66,-0.63],[-4.0,-0.66],[-3.83,-0.48],[-4.58,-1.04],[-4.2,-1.01],[-3.86,-1.33],[-4.33,-1.48],[-4.58,-1.6],[-4.49,-1.48],[-4.99,-1.77],[-4.74,-1.79],[-5.41,-1.73],[-5.82,-1.59],[-3.91,-1.73],[-3.75,-1.78],[-3.66,-2.02],[-3.86,-2.01],[-4.66,-2.13],[-4.44,-2.07],[-5.24,-2.35],[-3.75,-2.58],[-5.36,-2.68],[-5.49,-2.89],[-5.19,-2.97],[-3.8,-2.96],[-3.0,-2.73],[-2.5,-2.62],
[-1.5,1.3],[-0.9,1.42],[0.1,1.38],[0.8,1.35],[1.9,1.4],[2.8,1.3],[-0.4,1.3],[1.4,1.25],[3.2,1.22],[-2.2,1.2],[0.65,1.05],[-0.3,1.08],[2.3,0.92],
[0.1,1.15],[0.35,1.0],[0.55,1.18],[0.8,1.02],[1.0,1.2],[0.25,0.98],[0.7,0.78],[0.45,0.9],[0.9,0.85],[0.05,0.88],
[-4.3,0.85],[-3.6,0.62],[-2.8,0.9],[-2.3,0.55],[-1.6,0.95],[-1.2,0.6],[-0.9,0.82],[-0.55,0.68],[-0.2,0.95],[0.05,0.58],[0.25,0.85],[0.45,0.7],[0.7,0.92],[0.9,0.6],[1.15,0.78],[1.45,0.55],[1.75,0.9],[2.0,0.65],[2.4,0.8],[2.75,0.55],[3.1,0.72],[3.6,0.85],[4.1,0.66],[4.7,0.9],[5.3,0.6],[0.35,0.52],[0.6,0.62],[0.15,0.75],[-1.9,0.7],[1.3,0.98],
[-4.8,0.3],[-4.2,0.1],[-3.8,0.45],[-3.3,0.15],[-2.7,0.38],[-2.4,0.05],[-2.0,0.28],[-1.7,0.45],[-1.4,0.12],[-1.1,0.35],[-0.8,0.05],[-0.6,0.42],[-0.3,0.2],[-0.1,0.4],[0.1,0.1],[0.3,0.3],[0.5,0.45],[0.7,0.15],[0.85,0.38],[1.05,0.08],[1.25,0.3],[1.5,0.45],[1.8,0.18],[2.1,0.4],[2.4,0.08],[2.7,0.3],[3.0,0.45],[3.4,0.12],[3.8,0.28],[4.4,0.2],[5.0,0.35],[5.6,0.05],[0.2,0.48],[0.6,0.25],[0.4,0.02],[0.95,0.22],[-0.45,0.28],[1.6,0.02],
[-5.0,-0.3],[-4.5,-0.1],[-4.0,-0.4],[-3.5,-0.2],[-3.0,-0.45],[-2.6,-0.1],[-2.2,-0.35],[-1.9,-0.05],[-1.6,-0.28],[-1.3,-0.45],[-1.0,-0.15],[-0.75,-0.38],[-0.5,-0.08],[-0.25,-0.3],[0.0,-0.45],[0.15,-0.12],[0.3,-0.35],[0.45,-0.05],[0.6,-0.25],[0.75,-0.42],[0.9,-0.1],[1.05,-0.3],[1.2,-0.48],[1.4,-0.18],[1.7,-0.4],[2.0,-0.12],[2.3,-0.35],[2.6,-0.05],[2.9,-0.28],[3.2,-0.45],[3.5,-0.15],[4.6,-0.4],[5.2,-0.1],[0.22,-0.22],[0.52,-0.4],[0.38,-0.18],[0.68,-0.08],[0.1,-0.32],
[-5.3,-0.8],[-4.6,-0.6],[-4.1,-0.9],[-3.6,-0.7],[-3.1,-0.95],[-2.7,-0.58],[-2.3,-0.82],[-2.0,-0.62],[-1.7,-0.95],[-1.4,-0.7],[-1.1,-0.88],[-0.8,-0.55],[-0.55,-0.78],[-0.3,-0.98],[-0.1,-0.62],[0.05,-0.85],[0.2,-0.55],[0.32,-0.75],[0.45,-0.95],[0.58,-0.62],[0.7,-0.82],[0.82,-0.58],[0.95,-0.98],[1.1,-0.7],[1.3,-0.9],[1.55,-0.6],[1.85,-0.85],[2.15,-0.65],[2.5,-0.92],[2.8,-0.7],[3.1,-0.55],[3.4,-0.85],[3.8,-0.7],[4.2,-0.95],[4.6,-0.78],[0.15,-0.7],[0.4,-0.65],[0.65,-0.72],[0.25,-0.9],[0.52,-0.85],[0.88,-0.75],
[-5.1,-1.2],[-4.4,-1.4],[-3.9,-1.1],[-3.4,-1.35],[-2.9,-1.15],[-2.5,-1.45],[-2.1,-1.2],[-1.8,-1.38],[-1.5,-1.05],[-1.2,-1.3],[-0.9,-1.48],[-0.6,-1.15],[-0.35,-1.35],[-0.15,-1.05],[0.02,-1.25],[0.18,-1.45],[0.3,-1.1],[0.42,-1.3],[0.55,-1.02],[0.68,-1.22],[0.8,-1.42],[0.92,-1.12],[1.05,-1.35],[1.2,-1.05],[1.4,-1.25],[1.65,-1.45],[1.95,-1.15],[2.25,-1.38],[2.55,-1.08],[2.85,-1.3],[3.2,-1.48],[3.5,-1.18],[3.9,-1.4],[4.3,-1.1],[4.8,-1.32],[5.3,-1.2],[0.1,-1.15],[0.35,-1.2],[0.6,-1.35],[0.25,-1.32],[0.5,-1.42],[0.75,-1.1],
[-4.8,-1.7],[-4.2,-1.9],[-3.7,-1.6],[-3.2,-1.85],[-2.8,-1.65],[-2.4,-1.95],[-2.0,-1.7],[-1.7,-1.88],[-1.4,-1.58],[-1.1,-1.8],[-0.8,-1.98],[-0.55,-1.65],[-0.3,-1.85],[-0.1,-1.55],[0.05,-1.75],[0.2,-1.95],[0.32,-1.6],[0.45,-1.8],[0.58,-1.52],[0.7,-1.72],[0.85,-1.92],[1.0,-1.62],[1.15,-1.85],[1.35,-1.55],[1.6,-1.78],[1.9,-1.98],[2.2,-1.68],[2.5,-1.9],[2.8,-1.58],[3.1,-1.8],[3.5,-1.62],[3.9,-1.92],[4.3,-1.7],[4.8,-1.85],[5.3,-1.6],[0.12,-1.62],[0.38,-1.7],[0.62,-1.88],[0.25,-1.85],[0.5,-1.65],
[-4.5,-2.3],[-3.8,-2.1],[-3.2,-2.4],[-2.7,-2.15],[-2.2,-2.45],[-1.8,-2.2],[-1.4,-2.38],[-1.0,-2.1],[-0.7,-2.32],[-0.4,-2.05],[-0.15,-2.28],[0.02,-2.48],[0.18,-2.12],[0.3,-2.35],[0.42,-2.08],[0.55,-2.25],[0.68,-2.45],[0.8,-2.15],[0.95,-2.38],[1.15,-2.1],[1.4,-2.3],[1.7,-2.48],[2.0,-2.18],[2.35,-2.4],[2.7,-2.1],[3.05,-2.35],[3.45,-2.2],[3.9,-2.45],[4.4,-2.25],[0.1,-2.25],[0.35,-2.48],[0.6,-2.12],[0.25,-2.02],
[-3.5,-2.7],[-2.6,-2.9],[-1.9,-2.6],[-1.3,-2.8],[-0.8,-2.55],[-0.4,-2.75],[-0.1,-2.6],[0.05,-2.85],[0.22,-2.55],[0.4,-2.7],[0.58,-2.6],[0.75,-2.82],[0.9,-2.58],[1.1,-2.75],[1.5,-2.6],[1.9,-2.85],[2.4,-2.65],[2.9,-2.8],[3.4,-2.58],[3.9,-2.75],[0.3,-2.95],[0.65,-2.95],
[0.05,1.0],[0.4,1.1],[0.75,0.95],[1.1,0.9],[0.2,0.65],[0.55,0.75],[0.85,0.66],[1.2,0.62],[-0.2,0.7],[0.3,0.82],
[0.0,0.45],[0.25,0.38],[0.5,0.3],[0.75,0.48],[1.0,0.35],[1.3,0.2],[0.15,0.2],[0.45,0.15],[0.8,0.1],[1.1,0.0],[-0.25,0.05],[0.6,0.05],
[0.0,-0.05],[0.3,-0.08],[0.55,-0.15],[0.8,-0.25],[1.1,-0.15],[1.35,-0.35],[0.15,-0.4],[0.45,-0.3],[0.7,-0.35],[0.95,-0.45],[-0.2,-0.2],[0.35,-0.48],
[0.05,-0.6],[0.28,-0.58],[0.5,-0.55],[0.72,-0.62],[0.95,-0.7],[1.2,-0.62],[0.1,-0.78],[0.38,-0.82],[0.6,-0.78],[0.82,-0.88],[1.05,-0.85],[-0.2,-0.85],[0.45,-0.72],[0.22,-0.95],[0.7,-0.96],
[0.0,-1.05],[0.2,-1.08],[0.42,-1.02],[0.62,-1.1],[0.85,-1.05],[1.08,-1.15],[1.3,-1.08],[0.12,-1.25],[0.32,-1.3],[0.52,-1.22],[0.72,-1.3],[0.95,-1.25],[-0.15,-1.3],[0.42,-1.42],[0.62,-1.48],[0.85,-1.4],[0.2,-1.45],
[0.0,-1.55],[0.22,-1.58],[0.42,-1.55],[0.62,-1.62],[0.82,-1.58],[1.05,-1.7],[1.25,-1.62],[0.1,-1.72],[0.32,-1.75],[0.52,-1.72],[0.72,-1.78],[0.92,-1.8],[-0.18,-1.72],[0.42,-1.92],[0.62,-1.98],[0.15,-1.9],[0.82,-2.0],
[0.0,-2.05],[0.2,-2.1],[0.4,-2.18],[0.6,-2.05],[0.85,-2.25],[1.1,-2.2],[0.1,-2.35],[0.3,-2.25],[0.5,-2.4],[0.72,-2.35],[0.95,-2.5],[-0.15,-2.4],[0.2,-2.55],[0.45,-2.6],[0.65,-2.7],[0.1,-2.8],[0.4,-2.85],[0.85,-2.72],
[-0.4,1.15],[1.4,1.05],[-0.35,0.8],[1.5,0.7],[0.2,1.25],[0.6,1.32],[0.95,1.05],[0.35,0.7],
[-0.45,0.55],[1.55,0.4],[-0.4,0.25],[1.45,0.12],[0.12,0.55],[0.38,0.25],[0.65,0.55],[0.9,0.3],[1.15,0.5],[0.25,0.08],[0.58,0.18],[0.85,0.05],[1.2,0.22],
[-0.45,-0.15],[1.55,-0.2],[-0.4,-0.5],[1.5,-0.55],[0.08,-0.18],[0.25,-0.3],[0.42,-0.12],[0.62,-0.4],[0.85,-0.12],[1.0,-0.35],[1.25,-0.25],[0.15,-0.5],[0.55,-0.55],[0.78,-0.5],[1.1,-0.5],
[-0.45,-0.7],[1.55,-0.85],[-0.4,-1.05],[1.5,-1.15],[0.0,-0.7],[0.18,-0.68],[0.35,-0.92],[0.55,-0.7],[0.75,-0.82],[0.9,-0.62],[1.15,-0.75],[1.3,-0.95],[0.08,-0.95],[0.3,-1.0],[0.5,-1.12],[0.7,-1.05],[0.92,-0.98],[1.15,-1.18],
[-0.45,-1.3],[1.55,-1.35],[-0.4,-1.6],[1.5,-1.7],[0.05,-1.38],[0.28,-1.22],[0.45,-1.32],[0.7,-1.2],[0.75,-1.45],[1.0,-1.32],[1.15,-1.5],[1.3,-1.38],[0.1,-1.62],[0.35,-1.6],[0.6,-1.55],[0.85,-1.68],[1.12,-1.78],
[-0.42,-1.95],[1.5,-2.0],[-0.38,-2.25],[1.45,-2.3],[0.02,-1.88],[0.3,-1.88],[0.5,-1.95],[0.72,-2.12],[1.0,-1.95],[1.22,-2.08],[0.12,-2.15],[0.48,-2.28],[0.82,-2.38],[1.08,-2.35],[0.25,-2.38],
[-0.35,-2.55],[1.4,-2.6],[0.05,-2.62],[0.32,-2.62],[0.55,-2.52],[0.8,-2.62],[1.2,-2.55],[0.18,-2.72],[0.52,-2.82],[1.0,-2.88],[0.05,-2.95],[0.6,-3.05],
[-3.2,0.9],[-1.8,1.2],[-1.0,1.15],[1.6,1.12],[2.6,1.15],[3.8,1.0],
[-3.0,0.6],[-2.0,0.9],[-1.3,0.8],[-0.6,0.9],[1.5,0.8],[2.2,0.6],[2.9,0.82],[3.5,0.6],[4.4,0.75],
[-4.4,0.4],[-3.5,0.3],[-2.9,0.1],[-2.2,0.42],[-1.6,0.2],[-0.9,0.35],[-0.5,0.12],[1.4,0.1],[1.95,0.3],[2.5,0.45],[3.2,0.25],[4.0,0.05],[4.7,0.45],
[-4.6,-0.35],[-3.8,-0.15],[-3.2,-0.3],[-2.4,-0.2],[-1.8,-0.45],[-1.15,-0.3],[-0.65,-0.18],[1.55,-0.3],[2.15,-0.22],[2.75,-0.45],[3.35,-0.3],[4.0,-0.15],[4.4,-0.48],
[-4.8,-0.95],[-3.9,-0.62],[-3.3,-0.8],[-2.5,-0.75],[-1.9,-0.85],[-1.25,-0.6],[-0.7,-0.7],[-0.45,-0.9],[1.45,-0.78],[2.0,-0.55],[2.65,-0.82],[3.25,-0.7],[3.6,-0.95],[4.4,-0.6],[5.0,-0.85],
[-4.5,-1.1],[-3.7,-1.25],[-3.1,-1.4],[-2.3,-1.05],[-1.6,-1.25],[-1.0,-1.15],[-0.5,-1.45],[1.5,-1.12],[2.05,-1.4],[2.7,-1.2],[3.35,-1.32],[4.1,-1.25],[4.6,-1.45],
[-4.4,-1.65],[-3.5,-1.75],[-2.6,-1.8],[-1.9,-1.55],[-1.25,-1.7],[-0.7,-1.82],[-0.4,-1.6],[1.45,-1.9],[2.0,-1.6],[2.65,-1.75],[3.3,-1.95],[4.0,-1.6],[4.6,-1.95],
[-4.0,-2.2],[-3.0,-2.25],[-2.45,-2.05],[-1.6,-2.35],[-1.2,-2.15],[-0.55,-2.45],[1.3,-2.45],[1.85,-2.25],[2.5,-2.3],[3.25,-2.15],[3.7,-2.4],[4.2,-2.05],
[-3.1,-2.55],[-2.2,-2.75],[-1.5,-2.65],[-1.0,-2.9],[-0.6,-2.7],[1.3,-2.88],[1.75,-2.62],[2.6,-2.85],[3.1,-2.6],[3.6,-2.9],
[-3.9,1.2],[-2.5,0.95],[-1.25,1.35],[1.9,0.95],[3.0,1.05],[4.7,1.2],
[-4.0,0.6],[-3.3,0.55],[-2.6,0.75],[-1.5,0.55],[-0.95,0.65],[1.8,0.5],[2.6,0.7],[3.3,0.45],[4.0,0.85],[4.9,0.7],
[-5.2,0.25],[-3.9,0.05],[-3.1,0.35],[-2.3,0.2],[-1.9,0.45],[-1.25,0.2],[-0.7,0.22],[1.7,0.35],[2.3,0.2],[2.85,0.05],[3.6,0.15],[4.3,0.4],[5.2,0.15],
[-4.3,-0.2],[-3.4,-0.45],[-2.8,-0.25],[-2.0,-0.3],[-1.45,-0.1],[-0.9,-0.4],[-0.6,-0.3],[1.65,-0.15],[2.45,-0.25],[3.0,-0.1],[3.7,-0.4],[4.3,-0.25],[5.0,-0.5],
[-4.4,-0.75],[-3.5,-0.95],[-2.9,-0.7],[-2.15,-0.95],[-1.55,-0.75],[-1.0,-0.95],[-0.6,-0.6],[1.7,-0.65],[2.35,-0.8],[2.95,-0.95],[3.55,-0.6],[4.0,-0.85],[4.8,-0.65],
[-4.7,-1.3],[-4.0,-1.45],[-3.3,-1.15],[-2.7,-1.3],[-1.95,-1.05],[-1.35,-1.45],[-0.75,-1.25],[1.75,-1.25],[2.4,-1.25],[3.0,-1.45],[3.7,-1.3],[4.4,-1.35],[5.0,-1.15],
[-4.0,-1.65],[-3.0,-1.95],[-2.2,-1.55],[-1.55,-1.95],[-0.95,-1.7],[-0.5,-1.95],[1.7,-1.55],[2.3,-1.9],[2.95,-1.75],[3.6,-1.8],[4.2,-1.95],[5.0,-1.6],
[-3.5,-2.35],[-2.5,-2.4],[-1.9,-2.05],[-1.3,-2.5],[-0.8,-2.15],[1.6,-2.15],[2.2,-2.45],[2.9,-2.3],[3.5,-2.05],[4.1,-2.4],[4.8,-2.2],
[-2.9,-2.75],[-1.7,-2.9],[-0.75,-2.95],[1.45,-2.7],[2.1,-2.9],[2.75,-2.6],[3.3,-2.85],[4.2,-2.65],
[6.4,0.9],[7.7,0.25],[8.9,0.15],[9.4,-0.2],[6.1,-0.75],[7.0,-0.6],[7.9,-1.55],[8.4,-1.0],[9.3,-1.2],[6.9,-2.6],[7.4,-1.9],[8.0,-0.2],
[9.06,0.54],[10.07,0.27],[9.9,0.06],[10.08,-0.11],[10.13,-0.19],[12.41,0.15],[14.28,0.21],[14.35,0.15],[13.57,-0.07],[14.91,-0.09],[13.29,-0.24],[14.55,-0.21],[14.58,-0.41],[13.5,-0.51],[12.14,-0.52],[16.35,-0.46],[17.2,-0.69],[20.27,-0.63],[23.24,0.63],[9.75,-0.47],[9.85,-0.62],[11.03,-0.73],[11.45,-0.69],[10.28,-0.95],[9.89,-1.07],[12.27,-0.91],[13.05,-0.83],[13.33,-0.76],[13.5,-0.89],[12.95,-1.03],[18.18,-1.01],[19.54,-1.04],[20.62,-1.35],[21.38,-1.49],[22.09,-1.53],[23.48,-1.59],[23.3,-1.79],[28.41,-1.05],[30.55,-2.13],[12.59,-1.4],[12.9,-1.46],[13.12,-1.43],[13.27,-1.37],[13.33,-1.48],[13.8,-1.59],[13.85,-1.62],[11.61,-1.57],[11.15,-1.48],[10.53,-1.47],[10.63,-1.48],[10.35,-1.54],[10.17,-1.54],[10.45,-1.64],[10.5,-1.67],[9.44,-1.48],[9.32,-1.51],[9.5,-1.55],[9.59,-1.65],[9.01,-1.63],[9.85,-1.85],[10.27,-1.9],[9.54,-1.91],[10.81,-1.87],[11.98,-1.83],[12.52,-1.77],[15.81,-1.76],[15.51,-1.94],[10.27,-1.99],[9.06,-2.04],[8.97,-2.18],[9.11,-2.21],[9.27,-2.17],[10.53,-2.25],[11.56,-2.28],[13.09,-2.1],[13.42,-2.27],[13.27,-2.4],[17.53,-2.4],[9.11,-2.34],[9.65,-2.36],[11.0,-2.5],[11.76,-2.48],[9.55,-2.66],[10.91,-2.65],[8.94,-2.7],[10.73,-2.88],[11.0,-2.9],[12.74,-2.73],[12.77,-2.77],[23.25,-2.5],[25.57,-2.72],[22.49,-2.79],[13.12,-2.99],[15.89,-3.0],
[12.77,-3.03],[9.07,-3.31],[10.7,-3.43],[12.22,-3.26],[12.77,-3.3],[13.28,-3.33],[13.63,-3.46],[15.87,-3.03],[16.42,-3.16],[20.38,-3.09],[10.1,-3.75],[10.38,-3.64],[10.8,-3.7],[11.84,-3.74],[10.4,-4.05],[8.94,-4.44],[9.6,-4.41],[10.1,-4.31],[11.21,-4.32],[11.91,-4.36],[13.42,-4.4],[9.49,-4.85],[18.64,-3.67],[18.96,-3.73],[19.17,-3.93],[20.15,-3.87],[21.99,-3.86],[23.45,-3.94],[24.11,-3.95],[27.32,-3.75],[17.63,-4.09],[19.21,-4.36],[20.65,-4.54],[20.91,-4.47],[21.03,-4.51],[22.89,-4.37],[23.37,-5.34],[20.0,-5.88],[20.78,-6.01],[22.06,-5.9],
[-5.42,-2.89],[-5.2,-2.97],[-5.59,-3.16],[-5.42,-3.23],[-5.02,-3.2],[-4.73,-3.07],[-4.59,-3.05],[-4.61,-3.17],[-5.32,-3.4],[-4.93,-3.44],[-5.41,-3.67],[-4.08,-3.48],[-3.78,-2.98],[-3.76,-3.05],[-3.17,-3.67],[-2.94,-3.12],[-2.75,-3.04],[-2.74,-2.89],[-2.44,-3.43],[-2.37,-3.26],[-2.24,-2.84],[-1.84,-3.53],[-1.46,-3.19],[-1.24,-3.52],[-0.93,-3.54],[-0.85,-3.17],[-0.81,-3.81],[-0.8,-3.9],[-0.76,-3.95],[-0.58,-3.04],[-0.5,-3.75],[-0.45,-3.96],[-0.45,-4.03],[-2.69,-4.09],[-1.13,-4.25],[-3.83,-4.36],[-4.05,-4.65],[-2.89,-4.84],[-0.68,-4.83],[-0.03,-5.09],[-0.05,-5.33],[0.56,-5.36],[0.78,-5.11],[1.13,-5.29],[1.28,-5.27],[0.9,-5.56],[0.18,-6.0],[1.14,-6.17],[1.36,-6.23],[0.17,-6.35],[1.09,-6.38],[2.29,-6.21],[0.0,-4.24],[0.15,-4.35],[0.2,-4.34],[-0.07,-4.42],[-0.02,-4.4],[0.6,-4.2],[0.65,-4.23],[0.45,-4.45],[0.46,-4.59],[0.95,-4.59],[0.75,-4.66],[0.41,-4.71],[-0.05,-4.68],[1.11,-4.73],[1.69,-4.73],[0.91,-4.36],[1.06,-4.31],[1.16,-4.31],[1.21,-4.23],[1.29,-4.2],[1.84,-4.0],[2.39,-4.22],[2.26,-4.37],[2.34,-4.55],[2.99,-4.81],[3.25,-4.83],[3.08,-4.96],[2.49,-5.07],[3.18,-4.46],[3.33,-4.57],[4.2,-4.64],[4.2,-4.91],[4.36,-5.21],[3.8,-4.16],[3.05,-5.66],[4.0,-5.61],[4.63,-5.68],[3.76,-5.92],[5.21,-6.03],[5.44,-5.56],[5.89,-5.3],[5.92,-5.3],[6.37,-5.43],[6.02,-5.71],[5.19,-4.9],[7.21,-4.68],[8.52,-5.81],[5.51,-4.23],[5.82,-4.17],[8.97,-4.44],[9.47,-4.85],[4.53,-3.95],[5.79,-3.91],[5.92,-3.9],[5.49,-3.75],[5.54,-3.74],[8.06,-3.91],[8.71,-3.77],[7.55,-3.69],[8.28,-3.62],[6.29,-3.62],[5.22,-3.65],[5.44,-3.55],[4.16,-3.68],[4.38,-3.63],[4.34,-3.53],[4.48,-3.46],[4.44,-3.35],[3.47,-3.46],[3.22,-3.33],[2.8,-3.77],[2.62,-3.83],[3.08,-3.86],[2.27,-3.81],[2.39,-3.9],[1.74,-3.77],[1.31,-3.79],[1.14,-3.72],[1.01,-3.69],[0.8,-3.78],[0.48,-3.72],[0.46,-3.88],[0.27,-3.94],[0.15,-3.92],[0.03,-3.82],[-0.23,-3.66],[-0.35,-3.8],[-0.15,-3.92],[-0.15,-4.04],[0.43,-4.06],[0.83,-4.03],[0.91,-3.95],[0.73,-3.55],[0.65,-3.64],[0.58,-3.58],[0.98,-3.56],[0.45,-3.51],[0.65,-3.5],[1.94,-3.43],[2.06,-3.49],[2.19,-3.56],[1.38,-3.06],[1.51,-3.15],[1.64,-3.17],[1.89,-3.21],[2.31,-3.14],[2.62,-3.1],[2.72,-3.2],[2.92,-3.22],[3.05,-3.2],[2.07,-3.04],[2.31,-3.0],[2.54,-2.91],[2.85,-2.91],[3.12,-2.89],[3.43,-2.96],[3.83,-2.79],[4.13,-2.82],[3.91,-3.09],[4.06,-3.11],[4.53,-3.12],[4.66,-3.11],[4.79,-3.16],[4.46,-2.99],[4.96,-2.73],[5.07,-2.78],[5.16,-2.92],[5.51,-2.89],[5.82,-2.79],[6.52,-2.82],[6.12,-3.04],[6.37,-3.18],[6.3,-3.39],[6.95,-3.4],[7.1,-3.1],[7.18,-3.04],[7.78,-3.07],[7.56,-2.88],[8.53,-3.06],[8.72,-3.18],[9.05,-3.31],[8.74,-2.77],[7.71,-3.37],[7.53,-3.25],
[-0.53,-2.91],[-0.27,-2.78],[-0.1,-2.84],[-0.02,-2.73],[0.12,-2.8],[0.23,-2.86],[0.35,-2.77],[0.48,-2.81],[0.7,-2.91],[0.81,-2.87],[0.95,-2.94],[1.03,-2.81],[1.31,-2.92],[-0.27,-2.99],[-0.02,-3.02],[0.2,-3.07],[0.32,-3.12],[0.02,-3.16],[-0.38,-3.21],[-0.22,-3.22],[0.07,-3.23],[0.18,-3.3],[0.4,-3.22],[0.56,-3.27],[0.7,-3.35],[0.9,-3.31],[0.88,-3.37],[-0.38,-3.31],[-0.35,-3.36],[-0.15,-3.42],[-0.05,-3.45],[0.15,-3.47],[0.32,-3.47],[0.0,-3.53],[0.46,-3.55],[0.56,-3.63],[0.71,-3.58],[0.28,-3.66],[0.33,-3.73],[0.18,-3.81],[0.45,-3.78],[0.22,-3.89],[0.0,-3.96],[-0.51,-3.99],
[0.23,-6.0],[0.2,-6.35],[1.16,-6.37],[1.22,-6.17],[1.39,-6.22],[2.37,-6.21],[3.12,-5.66],[3.84,-5.91],[4.7,-5.68],[5.32,-6.02],[6.13,-5.71],[8.63,-5.8],[20.2,-5.87],[20.98,-6.0],[22.25,-5.9],
[-6.28,-6.52],[-3.6,-6.52],[-0.05,-6.52],[0.02,-6.52],[0.08,-6.52],[0.3,-6.5],[0.56,-6.52],[0.68,-6.52],[1.45,-6.52],[2.05,-6.52],[2.2,-6.52],[3.6,-6.52],[4.35,-6.52],[7.5,-6.52],[10.5,-6.52],[12.0,-6.52],[13.75,-6.49],[14.6,-6.52],[17.95,-6.52],[18.45,-6.52],[19.8,-6.52],[21.1,-6.52],[26.2,-6.52],[27.4,-6.52]
];

const NAVY = '#1a476f';
const MAROON = '#90353b';
const GRID = '#eaf2f3';
const SANS = "'DejaVu Sans Condensed', 'DejaVu Sans', sans-serif";
const SERIF = "'Liberation Serif', 'DejaVu Serif', serif";

function toXY(arr) { return arr.map(p => ({x: p[0], y: p[1]})); }

// titles, rotated y labels and axis titles
const panelText = {
    id: 'panelText',
    afterDraw(chart, args, opts) {
        const ctx = chart.ctx;
        const area = chart.chartArea;
        const yScale = chart.scales.y;
        ctx.save();
        ctx.fillStyle = '#000';

        // title with italic word
        let total = 0;
        opts.title.forEach(part => {
            ctx.font = (part.italic ? 'italic ' : '') + '32px ' + SERIF;
            part.w = ctx.measureText(part.text).width;
            total += part.w;
        });
        let tx = 485 - total / 2;
        ctx.textBaseline = 'alphabetic';
        ctx.textAlign = 'left';
        opts.title.forEach(part => {
            ctx.font = (part.italic ? 'italic ' : '') + '32px ' + SERIF;
            ctx.fillText(part.text, tx, 36);
            tx += part.w;
        });

        // y tick labels, vertical
        ctx.font = '30px ' + SANS;
        ctx.textAlign = 'center';
        ctx.textBaseline = 'middle';
        yTicks.forEach(v => {
            const py = yScale.getPixelForValue(v);
            ctx.save();
            ctx.translate(48, py);
            ctx.rotate(-Math.PI / 2);
            ctx.fillText(String(v), 0, 0);
            ctx.restore();
        });

        // axis titles
        ctx.font = '27.5px ' + SANS;
        ctx.fillText(opts.xTitle, (area.left + area.right) / 2, opts.xTitleY);
        ctx.save();
        ctx.translate(23, (area.top + area.bottom) / 2 - 22);
        ctx.rotate(-Math.PI / 2);
        ctx.fillText('Change in Population Growth (p.p.)', 0, 0);
        ctx.restore();

        ctx.restore();
    }
};

function makeChart(id, points, fit, xMin, xMax, xTicks, xAxisHeight, title, xTitle, xTitleY) {
    return new Chart(document.getElementById(id), {
        type: 'scatter',
        data: {
            datasets: [{
                type: 'line',
                data: toXY(fit),
                borderColor: MAROON,
                borderWidth: 2.3,
                pointRadius: 0,
                order: 0
            }, {
                data: toXY(points),
                backgroundColor: NAVY,
                borderWidth: 0,
                pointRadius: 1.9,
                order: 1
            }]
        },
        options: {
            responsive: false,
            animation: false,
            devicePixelRatio: 1,
            layout: { padding: { top: 55, right: 3, left: 0, bottom: 0 } },
            plugins: {
                legend: { display: false },
                tooltip: { enabled: false },
                panelText: { title: title, xTitle: xTitle, xTitleY: xTitleY }
            },
            scales: {
                x: {
                    type: 'linear',
                    min: xMin,
                    max: xMax,
                    afterBuildTicks: s => { s.ticks = xTicks.map(v => ({ value: v })); },
                    afterFit: s => { s.height = xAxisHeight; s.paddingLeft = 0; s.paddingRight = 0; },
                    grid: { drawOnChartArea: false, color: 'rgba(0,0,0,0)', tickColor: '#000', tickLength: 8, tickWidth: 1.3 },
                    border: { display: true, color: '#000', width: 1.5 },
                    ticks: { color: '#000', padding: 0, maxRotation: 0, font: { family: SANS, size: 30, lineHeight: 1 } }
                },
                y: {
                    type: 'linear',
                    min: -6.75,
                    max: 1.52,
                    afterBuildTicks: s => { s.ticks = yTicks.map(v => ({ value: v })); },
                    afterFit: s => { s.width = 81; s.paddingTop = 0; s.paddingBottom = 0; },
                    grid: { color: GRID, lineWidth: 1.5, tickColor: '#000', tickLength: 9, tickWidth: 1.3 },
                    border: { display: true, color: '#000', width: 1.5 },
                    ticks: { display: false }
                }
            }
        },
        plugins: [panelText]
    });
}

makeChart('level-chart', levelPoints, levelFit, -4.56, 40.7, levelXTicks, 117,
    [{ text: '(a) Change in ' }, { text: 'Level', italic: true }, { text: ' of Extreme Heat Days' }],
    'Change in 30-Year Trailing Average of # of Extreme Heat Days', 643);

makeChart('trend-chart', trendPoints, trendFit, -10.9, 31.3, trendXTicks, 65,
    [{ text: '(b) Change in ' }, { text: 'Trend', italic: true }, { text: ' of Extreme Heat Days' }],
    'Change in 30-Year Trailing Trend of # of Extreme Heat Days', 645);
</script>
</body>
</html>
